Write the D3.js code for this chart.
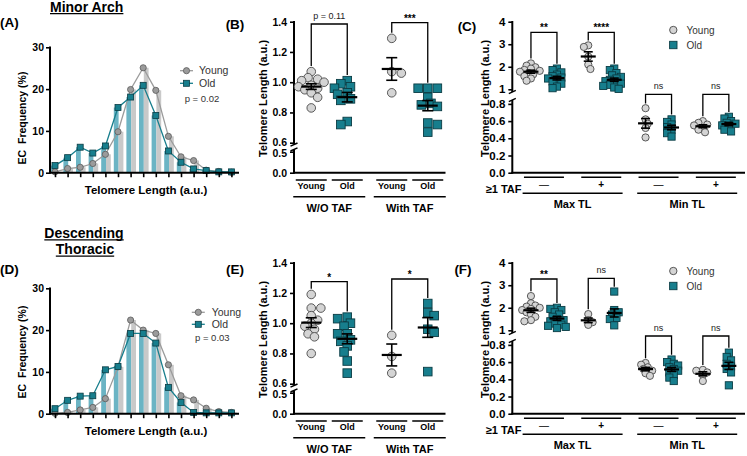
<!DOCTYPE html>
<html>
<head>
<meta charset="utf-8">
<script src="https://d3js.org/d3.v7.min.js"></script>
<style>
  html,body{margin:0;padding:0;background:#fff;}
  svg{display:block;}
</style>
</head>
<body>
<svg id="chart" width="747" height="456"></svg>
<script>
// ================= DATA =================
// Histograms (A, D): EC frequency (%) per telomere-length bin
const histBins = [0,1,2,3,4,5,6,7,8,9,10,11,12,13,14];
const histYTicks = [0,10,20,30];
const minorYoungFreq = [0.2,1.0,1.3,2.2,4.4,9.8,19.9,25.1,19.7,8.7,3.8,2.9,0.6,0.3,0.1];
const minorOldFreq   = [1.7,3.6,6.1,4.7,6.4,15.6,18.1,20.9,13.7,5.2,2.5,0.9,0.5,0.2,0.2];
const descYoungFreq  = [0.1,0.3,0.9,1.5,3.6,11.2,22.4,20.0,19.2,11.7,4.3,3.3,1.3,0.5,0.3];
const descOldFreq    = [1.2,3.2,4.2,4.3,10.5,11.3,19.2,19.2,16.9,6.3,2.7,0.3,0.2,0.2,0.2];
const minorHistP = "p = 0.02";
const descHistP  = "p = 0.03";

// Panels B, E: telomere length without / with TAF
const ageGroups = ["Young","Old"];
const tafGroups = ["W/O TAF","With TAF"];
const tafUpperTicks = [0.6,0.8,1.0,1.2,1.4];
const tafLowerTicks = [0.0,0.5];
const minorWoYoung   = [1.07,1.03,1.02,1.01,1.00,0.98,0.97,0.96,0.95,0.93,0.90,0.83];
const minorWoOld     = [1.01,0.99,0.97,0.96,0.93,0.92,0.89,0.88,0.74,0.72];
const minorWithYoung = [1.29,1.07,1.06,0.93];
const minorWithOld   = [0.96,0.96,0.96,0.90,0.86,0.85,0.84,0.73,0.72,0.67];
const minorTafSig    = ["p = 0.11","***"];
const descWoYoung    = [1.19,1.10,1.10,1.05,1.02,1.00,0.98,0.96,0.93,0.91,0.80];
const descWoOld      = [1.04,1.03,1.00,0.98,0.93,0.93,0.89,0.88,0.85,0.81,0.75,0.67];
const descWithYoung  = [0.92,0.78,0.67];
const descWithOld    = [1.13,1.07,1.05,0.96,0.94,0.68];
const descTafSig     = ["*","*"];

// Panels C, F: Max / Min TL by >=1 TAF
const tlMeasures = ["Max TL","Min TL"];
const tafStatus  = ["\u2014","+"];
const tlUpperTicks = [1,2,3,4];
const tlLowerTicks = [0.0,0.2,0.4,0.6,0.8];
const minorMaxNoYoung  = [2.15,2.05,1.98,1.92,1.86,1.82,1.78,1.72,1.66,1.58,1.48,1.38];
const minorMaxNoOld    = [1.92,1.85,1.75,1.65,1.58,1.52,1.48,1.42,1.35,1.25,1.12,1.05];
const minorMaxYesYoung = [2.95,2.88,2.45,2.10,1.90];
const minorMaxYesOld   = [1.92,1.85,1.72,1.62,1.55,1.48,1.42,1.36,1.30,1.25,1.20,1.15,1.08,1.02];
const minorMinNoYoung  = [0.75,0.62,0.57,0.52,0.41];
const minorMinNoOld    = [0.62,0.59,0.56,0.53,0.50,0.46,0.42];
const minorMinYesYoung = [0.60,0.58,0.56,0.55,0.52,0.50,0.47];
const minorMinYesOld   = [0.65,0.63,0.60,0.58,0.57,0.55,0.53,0.50,0.48];
const minorTlSig = ["**","****","ns","ns"];
const descMaxNoYoung   = [2.52,2.20,2.10,2.05,2.00,1.95,1.90,1.80,1.70,1.60,1.45,1.40];
const descMaxNoOld     = [2.00,1.95,1.90,1.80,1.70,1.60,1.50,1.45,1.40,1.30,1.25,1.20,1.15,1.10];
const descMaxYesYoung  = [1.72,1.45,1.36,1.24];
const descMaxYesOld    = [2.72,1.90,1.80,1.70,1.55,1.50,1.22];
const descMinNoYoung   = [0.59,0.57,0.54,0.52,0.50,0.47,0.44];
const descMinNoOld     = [0.63,0.60,0.58,0.56,0.54,0.52,0.50,0.48,0.45,0.42,0.38];
const descMinYesYoung  = [0.51,0.50,0.48,0.45,0.38];
const descMinYesOld    = [0.71,0.66,0.62,0.58,0.55,0.52,0.48,0.33];
const descTlSig = ["**","ns","ns","ns"];

// ================= STYLE =================
const FONT = "'Liberation Sans', Arial, Helvetica, sans-serif";
const TEAL = "#177e8d", TEAL_STROKE = "#0b3c44";
const TEAL_BAR = "#6bb4c4", GRAY_BAR = "#c9c9c9";
const GRAY_FILL = "#d4d4d4", GRAY_STROKE = "#4a4a4a";
const HIST_GRAY = "#9b9b9b", HIST_GRAY_STROKE = "#5a5a5a";
const ROW2 = 241;

const svg = d3.select("#chart").attr("font-family", FONT);

function txt(g, x, y, s, o = {}) {
  const t = g.append("text").attr("x", x).attr("y", y).text(s)
    .attr("font-size", o.size || 10)
    .attr("font-weight", o.weight || "bold")
    .attr("text-anchor", o.anchor || "start")
    .attr("fill", o.fill || "#000");
  if (o.rotate !== undefined) t.attr("transform", `rotate(${o.rotate},${x},${y})`);
  if (o.pre) t.style("white-space", "pre");
  return t;
}
function hline(g, x1, x2, y, w = 1.5, c = "#000") {
  g.append("line").attr("x1", x1).attr("x2", x2).attr("y1", y).attr("y2", y)
    .attr("stroke", c).attr("stroke-width", w);
}
function vline(g, x, y1, y2, w = 1.5, c = "#000") {
  g.append("line").attr("x1", x).attr("x2", x).attr("y1", y1).attr("y2", y2)
    .attr("stroke", c).attr("stroke-width", w);
}
function styleAxis(sel, size) {
  sel.attr("font-family", FONT).attr("font-size", size).attr("font-weight", "bold");
  sel.selectAll("path.domain").remove();
  sel.selectAll(".tick line").attr("stroke", "#000").attr("stroke-width", 1.6);
  sel.selectAll(".tick text").attr("fill", "#000");
}
function underlineTitle(x, y, s, size) {
  const t = txt(svg, x, y, s, { size, anchor: "middle" });
  const w = t.node().getComputedTextLength();
  hline(svg, x - w / 2, x + w / 2, y + 1.8, 1.3);
}
function breakMark(g, x, y) {
  g.append("line").attr("x1", x - 3.5).attr("x2", x + 3.5).attr("y1", y + 1.6).attr("y2", y - 1.6)
    .attr("stroke", "#000").attr("stroke-width", 1.4);
}

// beeswarm-like horizontal spread of points
function swarm(values, yFn, d, step) {
  const order = values.map((v, i) => i).sort((a, b) => values[b] - values[a]);
  const placed = [], out = new Array(values.length);
  order.forEach((i, n) => {
    const y = yFn(values[i]);
    let found = 0;
    for (let k = 0; k < 50; k++) {
      const cands = k === 0 ? [0] : (n % 2 ? [-k * step, k * step] : [k * step, -k * step]);
      const ok = cands.find(dx => placed.every(p => Math.hypot(p.dx - dx, p.y - y) >= d));
      if (ok !== undefined) { found = ok; break; }
    }
    placed.push({ dx: found, y });
    out[i] = found;
  });
  return out;
}
function drawDots(g, vals, x0, y, age, r, d, step) {
  const dx = swarm(vals, y, d, step);
  const gg = g.append("g");
  if (age === "Young") {
    gg.selectAll("circle").data(vals).join("circle")
      .attr("cx", (v, i) => x0 + dx[i]).attr("cy", v => y(v)).attr("r", r)
      .attr("fill", GRAY_FILL).attr("stroke", GRAY_STROKE).attr("stroke-width", 0.9);
  } else {
    gg.selectAll("rect").data(vals).join("rect")
      .attr("x", (v, i) => x0 + dx[i] - r).attr("y", v => y(v) - r)
      .attr("width", 2 * r).attr("height", 2 * r)
      .attr("fill", TEAL).attr("stroke", TEAL_STROKE).attr("stroke-width", 0.9);
  }
}
function drawMeanSem(g, vals, x0, y, mw, cw) {
  const m = d3.mean(vals), se = d3.deviation(vals) / Math.sqrt(vals.length);
  vline(g, x0, y(m + se), y(m - se), 1.6);
  hline(g, x0 - cw, x0 + cw, y(m + se), 1.6);
  hline(g, x0 - cw, x0 + cw, y(m - se), 1.6);
  hline(g, x0 - mw, x0 + mw, y(m), 2.2);
}
function drawBracket(g, x1, x2, by, l1, l2, label) {
  const p = `M${x1},${l1}V${by}H${x2}V${l2}`;
  g.append("path").attr("d", p).attr("fill", "none").attr("stroke", "#000").attr("stroke-width", 1.3);
  const isStar = /^\*+$/.test(label);
  if (isStar) txt(g, (x1 + x2) / 2, by - 1.2, label, { size: 10, anchor: "middle" });
  else txt(g, (x1 + x2) / 2, by - 5.5, label, { size: 9, weight: "normal", anchor: "middle", fill: "#222" });
}

// ================= HISTOGRAM PANELS =================
function drawHist(oy, young, old, leg) {
  const g = svg.append("g").attr("transform", `translate(0,${oy})`);
  const x = d3.scaleLinear().domain([histBins[0], histBins[histBins.length - 1]]).range([55, 231.4]);
  const y = d3.scaleLinear().domain([0, 30]).range([172.7, 47.3]);
  const bw = 4.8;
  g.append("g").selectAll("rect").data(histBins).join("rect")
    .attr("x", d => x(d) - 4.2).attr("width", bw)
    .attr("y", d => y(old[d])).attr("height", d => y(0) - y(old[d])).attr("fill", TEAL_BAR);
  g.append("g").selectAll("rect").data(histBins).join("rect")
    .attr("x", d => x(d) + 0.6).attr("width", bw)
    .attr("y", d => y(young[d])).attr("height", d => y(0) - y(young[d])).attr("fill", GRAY_BAR);

  const lineY = d3.line().x(d => x(d)).y(d => y(young[d]));
  const lineO = d3.line().x(d => x(d)).y(d => y(old[d]));
  g.append("path").attr("d", lineY(histBins)).attr("fill", "none").attr("stroke", HIST_GRAY).attr("stroke-width", 1.3);
  g.append("g").selectAll("circle").data(histBins).join("circle")
    .attr("cx", d => x(d)).attr("cy", d => y(young[d])).attr("r", 3.1)
    .attr("fill", HIST_GRAY).attr("stroke", HIST_GRAY_STROKE).attr("stroke-width", 0.8);
  g.append("path").attr("d", lineO(histBins)).attr("fill", "none").attr("stroke", TEAL).attr("stroke-width", 1.3);
  g.append("g").selectAll("rect").data(histBins).join("rect")
    .attr("x", d => x(d) - 3).attr("y", d => y(old[d]) - 3).attr("width", 6).attr("height", 6)
    .attr("fill", TEAL).attr("stroke", TEAL_STROKE).attr("stroke-width", 0.8);

  // axes
  const ya = g.append("g").attr("transform", "translate(50,0)")
    .call(d3.axisLeft(y).tickValues(histYTicks).tickSize(4).tickPadding(2).tickSizeOuter(0));
  styleAxis(ya, 10.5);
  const xa = g.append("g").attr("transform", "translate(0,172.7)")
    .call(d3.axisBottom(x).tickValues(histBins).tickFormat("").tickSize(4.5).tickSizeOuter(0));
  styleAxis(xa, 10);
  vline(g, 50, 46.5, 173.7, 2);
  hline(g, 49, 239, 172.7, 2);

  txt(g, 146, 193.5, "Telomere Length (a.u.)", { size: 11.5, anchor: "middle" });
  txt(g, 25.5, leg.ylabCy, "EC  Frequency (%)", { size: 10.5, anchor: "middle", rotate: -90, pre: true });

  // legend
  hline(g, leg.mx - 6.5, leg.mx + 6.5, leg.yy, 1.3, HIST_GRAY);
  g.append("circle").attr("cx", leg.mx).attr("cy", leg.yy).attr("r", 3.1)
    .attr("fill", HIST_GRAY).attr("stroke", HIST_GRAY_STROKE).attr("stroke-width", 0.8);
  txt(g, leg.tx, leg.yy + 3.6, ageGroups[0], { size: 10.5, weight: "normal", fill: "#333" });
  hline(g, leg.mx - 6.5, leg.mx + 6.5, leg.yo, 1.3, TEAL);
  g.append("rect").attr("x", leg.mx - 3).attr("y", leg.yo - 3).attr("width", 6).attr("height", 6)
    .attr("fill", TEAL).attr("stroke", TEAL_STROKE).attr("stroke-width", 0.8);
  txt(g, leg.tx, leg.yo + 3.6, ageGroups[1], { size: 10.5, weight: "normal", fill: "#333" });
  txt(g, leg.px, leg.py + 3.3, leg.p, { size: 9.5, weight: "normal", fill: "#333" });
}

// ================= TAF PANELS (B, E) =================
function drawTaf(oy, sets, sigs, bracketY) {
  const g = svg.append("g").attr("transform", `translate(0,${oy})`);
  const yU = d3.scaleLinear().domain([0.6, 1.4]).range([142.7, 21.7]);
  const yL = d3.scaleLinear().domain([0, 0.5]).range([172.7, 151.7]);
  const y = v => (v >= 0.55 ? yU(v) : yL(v));
  const gx = d3.scaleBand().domain(tafGroups).range([289, 450]);
  const ax = d3.scalePoint().domain(ageGroups).range([-18, 18]);
  const cx = (grp, age) => gx(grp) + gx.bandwidth() / 2 + ax(age);

  const a1 = g.append("g").attr("transform", "translate(294,0)")
    .call(d3.axisLeft(yU).tickValues(tafUpperTicks).tickFormat(d3.format(".1f")).tickSize(4).tickPadding(3).tickSizeOuter(0));
  styleAxis(a1, 10.5);
  a1.selectAll(".tick text").filter(d => Math.abs(d - 0.6) < 1e-9).attr("y", -1);
  const a2 = g.append("g").attr("transform", "translate(294,0)")
    .call(d3.axisLeft(yL).tickValues(tafLowerTicks).tickFormat(d3.format(".1f")).tickSize(4).tickPadding(3).tickSizeOuter(0));
  styleAxis(a2, 10.5);
  a2.selectAll(".tick text").filter(d => Math.abs(d - 0.5) < 1e-9).attr("y", 1.5);
  vline(g, 294, 21, 144.6, 2);
  vline(g, 294, 149.4, 173.7, 2);
  breakMark(g, 294, 144.6);
  breakMark(g, 294, 149.4);
  hline(g, 293, 445.5, 172.7, 2);
  txt(g, 267, 98.5, "Telomere Length (a.u.)", { size: 11, anchor: "middle", rotate: -90 });

  tafGroups.forEach((grp, gi) => {
    const gc = gx(grp) + gx.bandwidth() / 2;
    ageGroups.forEach((age, ai) => {
      const vals = sets[gi][ai];
      drawDots(g, vals, cx(grp, age), y, age, 4.3, 6.6, 3.2);
    });
    ageGroups.forEach((age, ai) => {
      drawMeanSem(g, sets[gi][ai], cx(grp, age), y, 10, 5.5);
      hline(g, cx(grp, age) - 15.5, cx(grp, age) + 15.5, 180, 1.5);
      txt(g, cx(grp, age), 188.8, age, { size: 9, anchor: "middle" });
    });
    hline(g, gc - 36, gc + 36, 196.7, 1.5);
    txt(g, gc, 212, grp, { size: 11, anchor: "middle" });
    const l1 = y(d3.max(sets[gi][0])) - 5.6, l2 = y(d3.max(sets[gi][1])) - 5.6;
    drawBracket(g, cx(grp, "Young"), cx(grp, "Old"), bracketY[gi], l1, l2, sigs[gi]);
  });
}

// ================= TL PANELS (C, F) =================
function drawTL(oy, sets, sigs, bracketY) {
  const g = svg.append("g").attr("transform", `translate(0,${oy})`);
  const yU = d3.scaleLinear().domain([1, 4]).range([89.3, 21.7]);
  const yL = d3.scaleLinear().domain([0, 0.8]).range([172.7, 103.9]);
  const y = v => (v >= 0.9 ? yU(v) : yL(v));
  const mx = d3.scaleBand().domain(tlMeasures).range([515.3, 744.5]);
  const tx = d3.scaleBand().domain(tafStatus).range([0, mx.bandwidth()]);
  const ax = d3.scalePoint().domain(ageGroups).range([-13, 13]);
  const pc = (m, t) => mx(m) + tx(t) + tx.bandwidth() / 2;

  const a1 = g.append("g").attr("transform", "translate(512.3,0)")
    .call(d3.axisLeft(yU).tickValues(tlUpperTicks).tickFormat(d3.format("d")).tickSize(4).tickPadding(3).tickSizeOuter(0));
  styleAxis(a1, 11.5);
  const a2 = g.append("g").attr("transform", "translate(512.3,0)")
    .call(d3.axisLeft(yL).tickValues(tlLowerTicks).tickFormat(d3.format(".1f")).tickSize(4).tickPadding(3).tickSizeOuter(0));
  styleAxis(a2, 11.5);
  vline(g, 512.3, 21, 92, 2);
  vline(g, 512.3, 100, 173.7, 2);
  breakMark(g, 512.3, 92);
  breakMark(g, 512.3, 100);
  hline(g, 511.3, 745, 172.7, 2);
  txt(g, 488.5, 98.5, "Telomere Length (a.u.)", { size: 11, anchor: "middle", rotate: -90 });

  txt(g, 521.5, 193, "\u22651 TAF", { size: 11, anchor: "end" });
  let k = 0;
  tlMeasures.forEach((m, mi) => {
    const mc = mx(m) + mx.bandwidth() / 2;
    tafStatus.forEach((t, ti) => {
      const c = pc(m, t);
      const pair = sets[mi * 2 + ti];
      ageGroups.forEach((age, ai) => drawDots(g, pair[ai], c + ax(age), y, age, 3.6, 4.6, 2.2));
      ageGroups.forEach((age, ai) => drawMeanSem(g, pair[ai], c + ax(age), y, 7.5, 4.5));
      hline(g, c - 20, c + 20, 177.3, 1.5);
      txt(g, c, 188, t, { size: 10, weight: t === "+" ? "bold" : "normal", anchor: "middle" });
      const l1 = y(d3.max(pair[0])) - 4.8, l2 = y(d3.max(pair[1])) - 4.8;
      drawBracket(g, c + ax("Young"), c + ax("Old"), bracketY[k], l1, l2, sigs[k]);
      k++;
    });
    hline(g, mc - 50, mc + 50, 193.3, 1.5);
    txt(g, mc, 208, m, { size: 11, anchor: "middle" });
  });

  // legend
  g.append("circle").attr("cx", 673.3).attr("cy", 30).attr("r", 3.7)
    .attr("fill", GRAY_FILL).attr("stroke", GRAY_STROKE).attr("stroke-width", 0.9);
  txt(g, 686.5, 33.6, ageGroups[0], { size: 10, weight: "normal", fill: "#333" });
  g.append("rect").attr("x", 669.6).attr("y", 41.3).attr("width", 7.4).attr("height", 7.4)
    .attr("fill", TEAL).attr("stroke", TEAL_STROKE).attr("stroke-width", 0.9);
  txt(g, 686.5, 48.6, ageGroups[1], { size: 10, weight: "normal", fill: "#333" });
}

// ================= RENDER =================
underlineTitle(86.7, 11.8, "Minor Arch", 14);
underlineTitle(84, 238, "Descending", 14);
underlineTitle(85, 254.3, "Thoracic", 14);

txt(svg, 0, 26.5, "(A)", { size: 13.5 });
txt(svg, 235, 29, "(B)", { size: 13.5, anchor: "middle" });
txt(svg, 467, 30.5, "(C)", { size: 13.5, anchor: "middle" });
txt(svg, 0, 273.5, "(D)", { size: 13.5 });
txt(svg, 235, 273.5, "(E)", { size: 13.5, anchor: "middle" });
txt(svg, 463, 273.5, "(F)", { size: 13.5, anchor: "middle" });

drawHist(0, minorYoungFreq, minorOldFreq,
  { mx: 186.5, tx: 199, yy: 70.7, yo: 83.3, px: 184.7, py: 98.3, p: minorHistP, ylabCy: 118 });
drawHist(ROW2, descYoungFreq, descOldFreq,
  { mx: 198.3, tx: 211.7, yy: 71.3, yo: 83.3, px: 195, py: 96.3, p: descHistP, ylabCy: 111 });

drawTaf(0, [[minorWoYoung, minorWoOld], [minorWithYoung, minorWithOld]], minorTafSig, [24, 22.7]);
drawTaf(ROW2, [[descWoYoung, descWoOld], [descWithYoung, descWithOld]], descTafSig, [40.7, 38]);

drawTL(0, [[minorMaxNoYoung, minorMaxNoOld], [minorMaxYesYoung, minorMaxYesOld],
           [minorMinNoYoung, minorMinNoOld], [minorMinYesYoung, minorMinYesOld]],
       minorTlSig, [32.3, 32.3, 94.3, 94.3]);
drawTL(ROW2, [[descMaxNoYoung, descMaxNoOld], [descMaxYesYoung, descMaxYesOld],
              [descMinNoYoung, descMinNoOld], [descMinYesYoung, descMinYesOld]],
       descTlSig, [38, 37.3, 95, 95]);
</script>
</body>
</html>
